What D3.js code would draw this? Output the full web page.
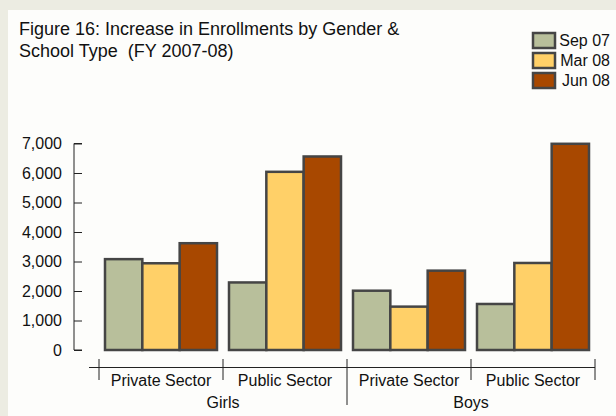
<!DOCTYPE html>
<html>
<head>
<meta charset="utf-8">
<script src="https://cdn.jsdelivr.net/npm/d3@7"></script>
<style>
  body { margin: 0; background: #fff; }
  svg text { font-family: "Liberation Sans", Arial, sans-serif; fill: #111; }
</style>
</head>
<body>
<svg id="chart" width="616" height="416"></svg>
<script>
// data
const genders = ["Girls", "Boys"];
const sectors = ["Private Sector", "Public Sector"];
const series = ["Sep 07", "Mar 08", "Jun 08"];
const sep07 = [3080, 2290, 2010, 1560];
const mar08 = [2940, 6040, 1470, 2950];
const jun08 = [3620, 6560, 2690, 6990];
const yTicks = [0, 1000, 2000, 3000, 4000, 5000, 6000, 7000];

const colors = ["#b8bf9b", "#ffd068", "#a84800"];
const strokeCol = "#454545";

const svg = d3.select("svg#chart");
const W = 616, H = 416;

// frame
svg.append("rect").attr("width", W).attr("height", H).attr("fill", "#ecece2");
svg.append("rect").attr("x", 8).attr("y", 10).attr("width", W - 8).attr("height", H - 10).attr("fill", "#fdfdfb");

// title
const title = svg.append("text").attr("x", 19).attr("y", 35).style("font-size", "18px");
title.append("tspan").attr("x", 19).text("Figure 16: Increase in Enrollments by Gender &");
title.append("tspan").attr("x", 19).attr("dy", 22).attr("xml:space", "preserve").text("School Type  (FY 2007-08)");

// legend
const legend = svg.append("g").attr("transform", "translate(533, 33)");
series.forEach((s, i) => {
  legend.append("rect")
    .attr("x", 0).attr("y", i * 20)
    .attr("width", 22).attr("height", 15)
    .attr("fill", colors[i]).attr("stroke", strokeCol).attr("stroke-width", 2.5);
  legend.append("text")
    .attr("x", 77).attr("y", i * 20 + 13)
    .attr("text-anchor", "end")
    .style("font-size", "16px")
    .text(s);
});

// scales
const cats = [];
genders.forEach(g => sectors.forEach(s => cats.push(g + "|" + s)));
const x0 = d3.scaleBand().domain(cats).range([99, 595]);
const x1 = d3.scaleBand().domain(series).range([6, x0.bandwidth() - 6]);
const y = d3.scaleLinear().domain([0, 7000]).range([350, 143.5]);

// y axis
const yAxis = svg.append("g").attr("transform", "translate(74,0)")
  .call(d3.axisRight(y).tickValues(yTicks).tickSize(8).tickFormat(d3.format(",")));
yAxis.select(".domain").attr("stroke", "#222").attr("d", `M8,${y(7000)}H0V${y(0)}H8`);
yAxis.selectAll(".tick line").attr("stroke", "#222");
yAxis.selectAll(".tick text")
  .attr("x", -12).attr("text-anchor", "end")
  .style("font-size", "16px").attr("fill", "#111");

// bars
const rows = cats.map((c, i) => ({ cat: c, values: [sep07[i], mar08[i], jun08[i]] }));
const groups = svg.selectAll("g.grp").data(rows).join("g")
  .attr("class", "grp")
  .attr("transform", d => `translate(${x0(d.cat)},0)`);
groups.selectAll("rect").data(d => d.values.map((v, i) => ({ key: series[i], v, i })))
  .join("rect")
  .attr("x", d => x1(d.key))
  .attr("y", d => y(d.v))
  .attr("width", x1.bandwidth())
  .attr("height", d => y(0) - y(d.v))
  .attr("fill", d => colors[d.i])
  .attr("stroke", strokeCol)
  .attr("stroke-width", 2.5);

// category axis
const axY = 367.5;
const cat = svg.append("g");
cat.append("line").attr("x1", 89).attr("x2", 595).attr("y1", axY).attr("y2", axY).attr("stroke", "#222");
const seps = [99, x0(cats[1]), x0(cats[2]), x0(cats[3]), 595];
seps.forEach((sx, i) => {
  cat.append("line")
    .attr("x1", sx).attr("x2", sx)
    .attr("y1", 359).attr("y2", i === 2 ? 405 : 380)
    .attr("stroke", "#222");
});
cats.forEach(c => {
  cat.append("text")
    .attr("x", x0(c) + x0.bandwidth() / 2).attr("y", 386)
    .attr("text-anchor", "middle").style("font-size", "16px")
    .text(c.split("|")[1]);
});
genders.forEach((g, i) => {
  cat.append("text")
    .attr("x", x0(cats[i * 2]) + x0.bandwidth()).attr("y", 408)
    .attr("text-anchor", "middle").style("font-size", "16px")
    .text(g);
});
</script>
</body>
</html>
